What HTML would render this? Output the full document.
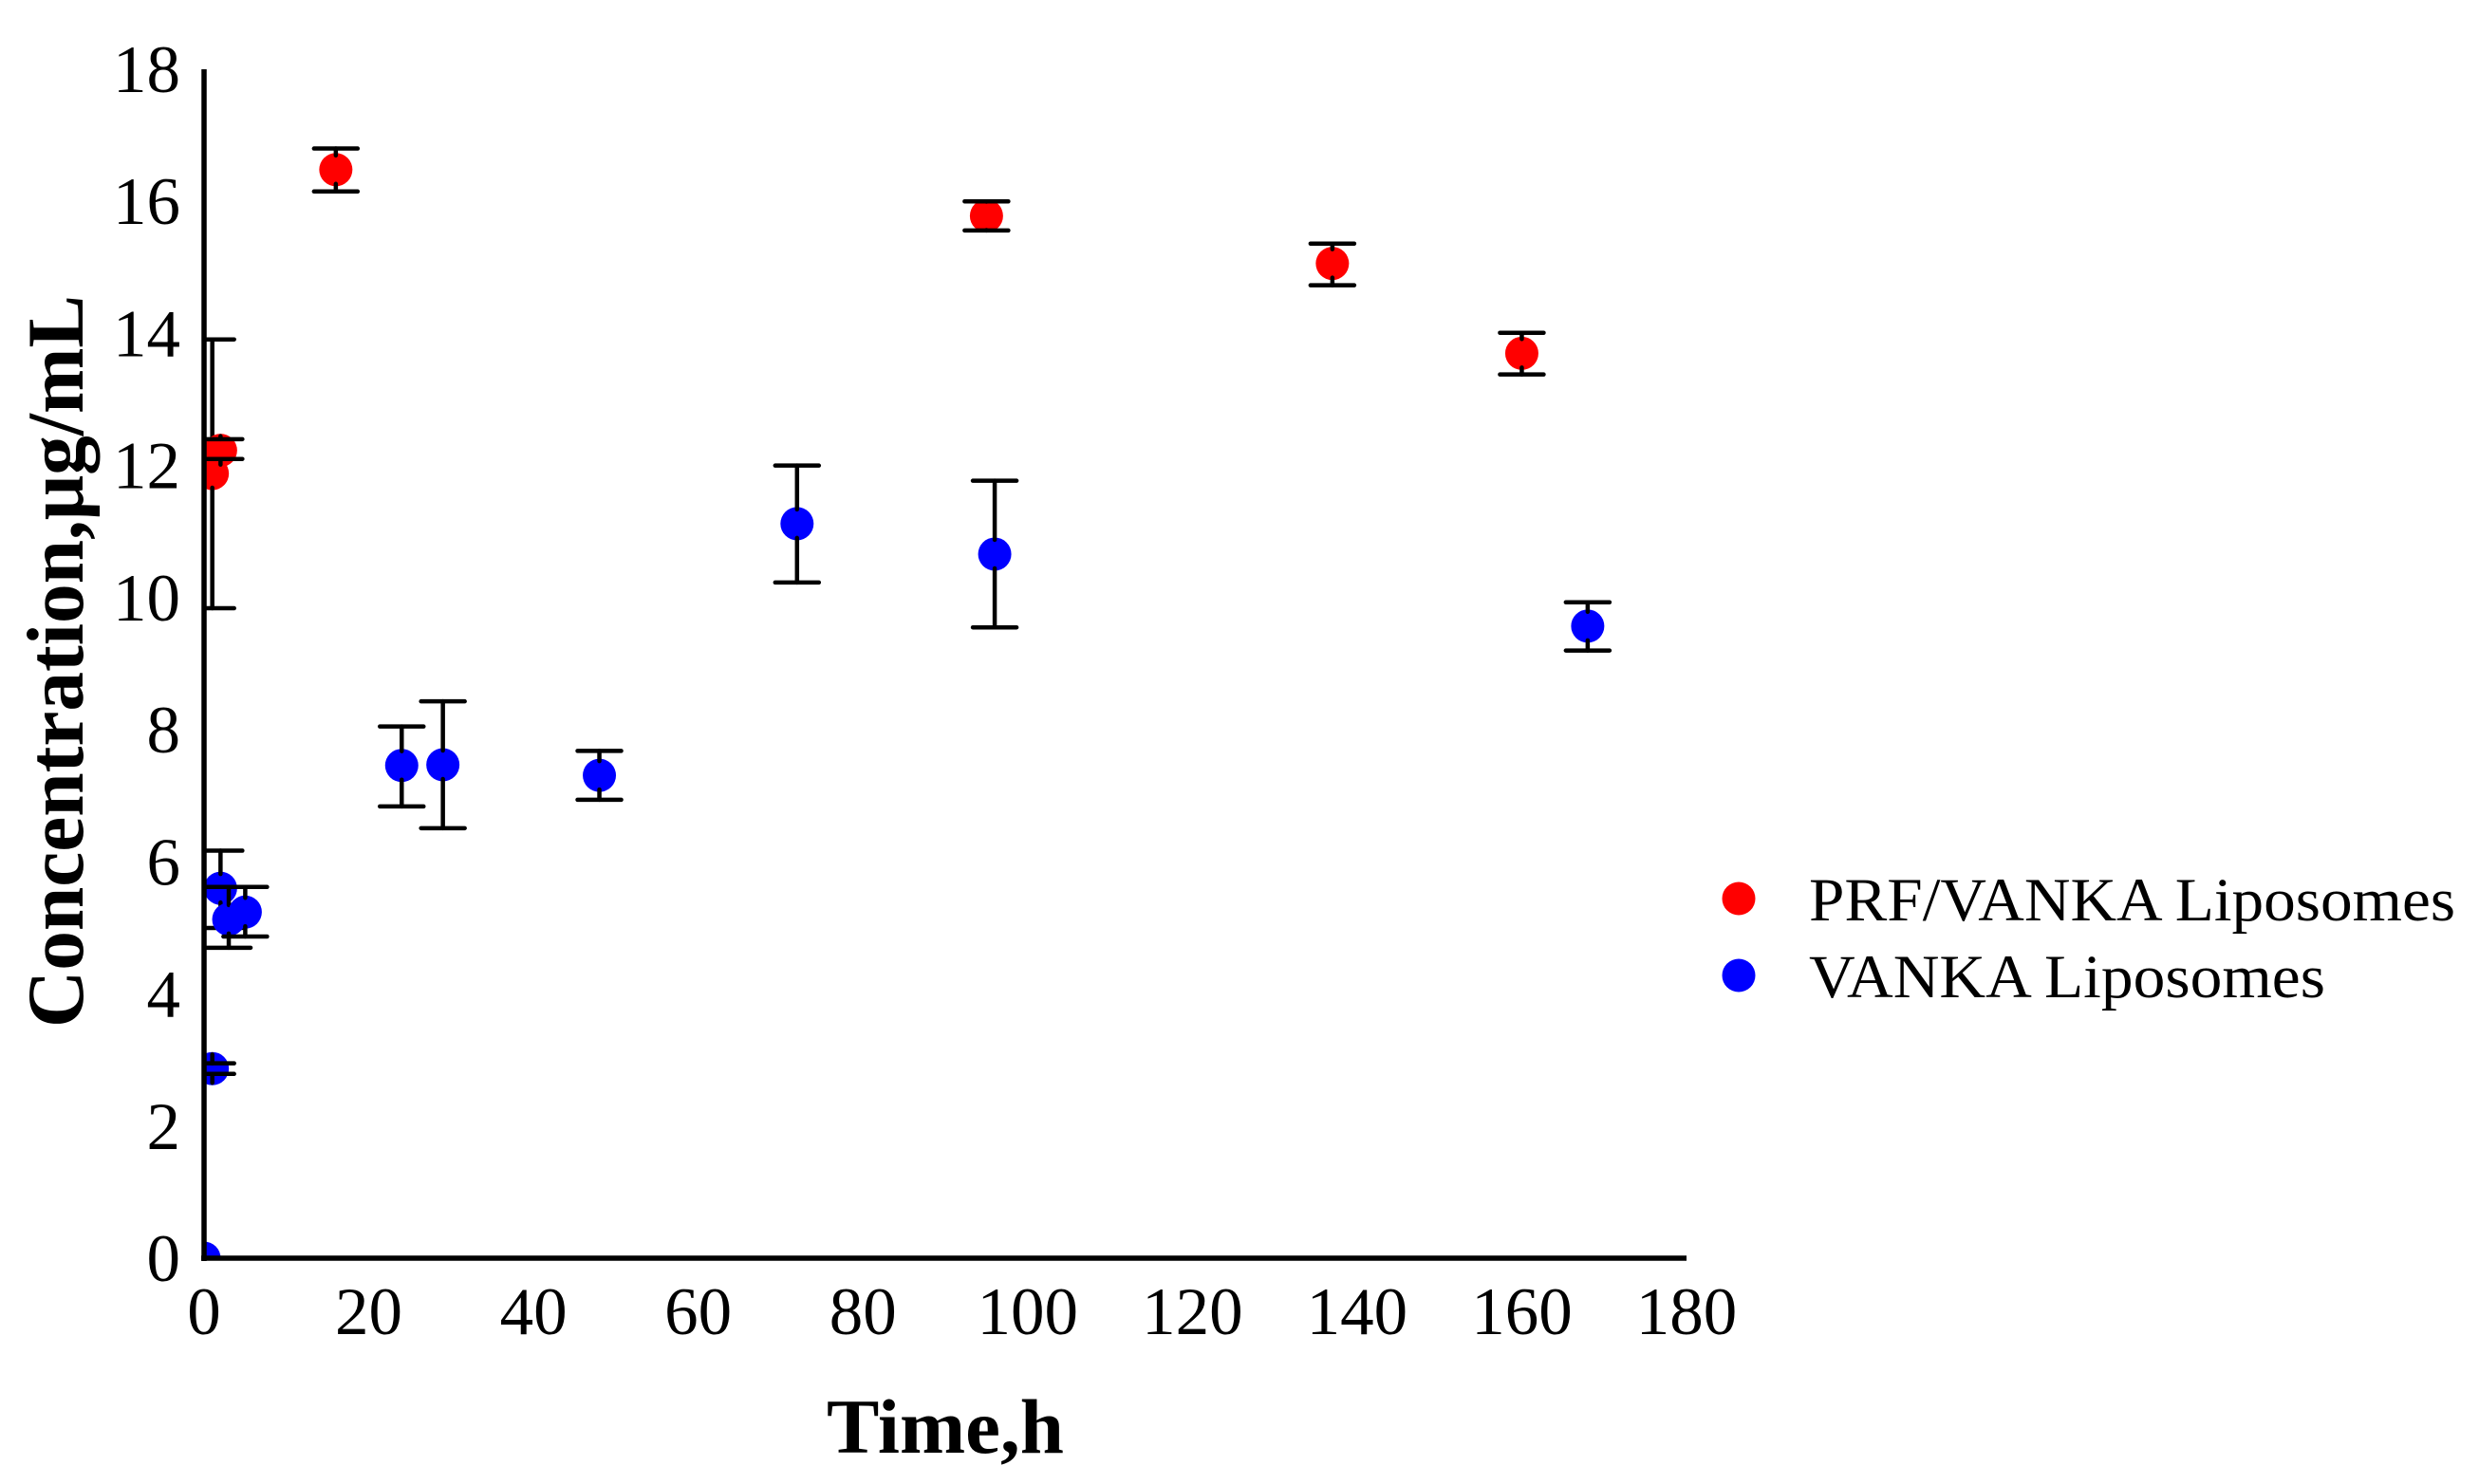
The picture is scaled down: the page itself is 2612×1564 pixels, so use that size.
<!DOCTYPE html>
<html lang="en">
<head>
<meta charset="utf-8">
<title>Concentration over time</title>
<style>
html,body{margin:0;padding:0;background:#fff;}
svg{display:block;}
text{font-family:"Liberation Serif",serif;fill:#000;}
</style>
</head>
<body>
<svg id="chart" xmlns="http://www.w3.org/2000/svg" width="2612" height="1564" viewBox="0 0 2612 1564">
  <rect x="0" y="0" width="2612" height="1564" fill="#fff"/>
  <defs><clipPath id="plot-clip"><rect x="215" y="60" width="1575" height="1266"/></clipPath></defs>
  <g id="marks"></g>
  <g id="axes"></g>
  <text x="996" y="1531" font-size="82" font-weight="bold" text-anchor="middle" textLength="250" lengthAdjust="spacingAndGlyphs">Time,h</text>
  <text transform="translate(87 697) rotate(-90)" font-size="85" font-weight="bold" text-anchor="middle" textLength="772" lengthAdjust="spacingAndGlyphs">Concentration,μg/mL</text>
  <g>
    <circle cx="1832" cy="947" r="17.5" fill="#ff0000"/>
    <text x="1906" y="970" font-size="65" textLength="681" lengthAdjust="spacingAndGlyphs">PRF/VANKA Liposomes</text>
    <circle cx="1832" cy="1028" r="17.5" fill="#0000ff"/>
    <text x="1906" y="1051" font-size="65" textLength="544" lengthAdjust="spacingAndGlyphs">VANKA Liposomes</text>
  </g>
</svg>
<script>
var xTickLabels = [0, 20, 40, 60, 80, 100, 120, 140, 160, 180];
var yTickLabels = [0, 2, 4, 6, 8, 10, 12, 14, 16, 18];

var prfTimes = [1, 2, 16, 95, 137, 160];
var prfValues = [11.88, 12.23, 16.48, 15.78, 15.06, 13.7];
var prfUpper = [13.91, 12.4, 16.8, 16.0, 15.36, 14.01];
var prfLower = [9.84, 12.1, 16.15, 15.56, 14.73, 13.38];

var vankaTimes = [0, 1, 2, 3, 5, 24, 29, 48, 72, 96, 168];
var vankaValues = [0, 2.87, 5.6, 5.13, 5.24, 7.46, 7.47, 7.31, 11.12, 10.66, 9.57];
var vankaUpper = [0, 2.95, 6.17, 5.62, 5.62, 8.05, 8.43, 7.68, 12.0, 11.77, 9.93];
var vankaLower = [0, 2.79, 5.0, 4.7, 4.87, 6.84, 6.51, 6.94, 10.23, 9.55, 9.2];

var NS = 'http://www.w3.org/2000/svg';
var plotLeft = 215, plotRight = 1777, plotBottom = 1326, plotTop = 73;
var xMax = 180, yMax = 18;
var markerRadius = 17.5, capHalf = 23, stubInset = 15;
var barWidth = 4.5;

function xScale(v) { return plotLeft + (plotRight - plotLeft) * v / xMax; }
function yScale(v) { return plotBottom - (plotBottom - plotTop) * v / yMax; }

function make(tag, attrs, parent) {
  var el = document.createElementNS(NS, tag);
  for (var k in attrs) el.setAttribute(k, attrs[k]);
  parent.appendChild(el);
  return el;
}
function strokeLine(x1, y1, x2, y2, width, parent) {
  return make('line', {x1: x1, y1: y1, x2: x2, y2: y2, stroke: '#000', 'stroke-width': width, 'stroke-linecap': 'round'}, parent);
}

var marks = document.getElementById('marks');
var axes = document.getElementById('axes');

function drawSeries(prefix, color, times, values, upper, lower) {
  var group = make('g', {'clip-path': 'url(#plot-clip)'}, marks);
  
  
  times.forEach(function (t, i) {
    var cx = xScale(t), cy = yScale(values[i]);
    var dot = make('circle', {cx: cx, cy: cy, r: markerRadius, fill: color}, group);
    
    
    if (upper[i] === lower[i]) return;
    var yu = yScale(upper[i]), yl = yScale(lower[i]);
    var bar = make('g', {}, group);
    
    
    strokeLine(cx, yu, cx, cy - stubInset, barWidth, bar);
    strokeLine(cx, yl, cx, cy + stubInset, barWidth, bar);
    strokeLine(cx - capHalf, yu, cx + capHalf, yu, barWidth, bar);
    strokeLine(cx - capHalf, yl, cx + capHalf, yl, barWidth, bar);
  });
}
drawSeries('prf-vanka', '#ff0000', prfTimes, prfValues, prfUpper, prfLower);
drawSeries('vanka', '#0000ff', vankaTimes, vankaValues, vankaUpper, vankaLower);

var yAxisLine = make('line', {x1: plotLeft, y1: plotTop, x2: plotLeft, y2: plotBottom + 3, stroke: '#000', 'stroke-width': 5.5}, axes);


var xAxisLine = make('line', {x1: plotLeft - 3, y1: plotBottom, x2: plotRight, y2: plotBottom, stroke: '#000', 'stroke-width': 5.5}, axes);



xTickLabels.forEach(function (v) {
  var t = make('text', {x: xScale(v), y: 1406, 'font-size': 71, 'text-anchor': 'middle'}, axes);
  
  
  t.textContent = v;
});
yTickLabels.forEach(function (v) {
  var t = make('text', {x: 190, y: yScale(v) + 24, 'font-size': 71, 'text-anchor': 'end'}, axes);
  
  
  t.textContent = v;
});
</script>
</body>
</html>
